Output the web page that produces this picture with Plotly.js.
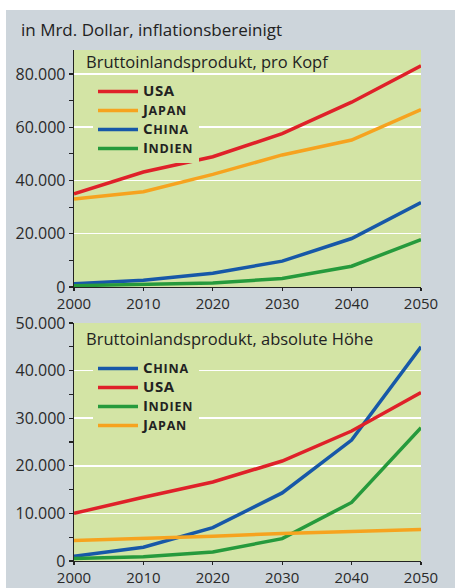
<!DOCTYPE html>
<html>
<head>
<meta charset="utf-8">
<script src="https://cdn.plot.ly/plotly-3.0.1.min.js"></script>
<style>html,body{margin:0;padding:0;background:#fff;}#chart{width:455px;height:588px;}</style>
</head>
<body>
<div id="chart"></div>
<script>
const years = [2000, 2010, 2020, 2030, 2040, 2050];

// Bruttoinlandsprodukt pro Kopf (Dollar)
const kopfUSA    = [35000, 43200, 48900, 57600, 69400, 83100];
const kopfJapan  = [33000, 35800, 42300, 49600, 55200, 66600];
const kopfChina  = [1200, 2500, 5200, 9700, 18200, 31700];
const kopfIndien = [500, 1000, 1500, 3200, 7800, 17800];

// Bruttoinlandsprodukt absolute Höhe (Mrd. Dollar)
const absChina  = [1000, 2900, 7000, 14300, 25400, 45000];
const absUSA    = [10000, 13400, 16600, 21000, 27300, 35400];
const absIndien = [500, 900, 1900, 4700, 12300, 28000];
const absJapan  = [4300, 4700, 5200, 5800, 6200, 6600];

const headerText = 'in Mrd. Dollar, inflationsbereinigt';
const title1 = 'Bruttoinlandsprodukt, pro Kopf';
const title2 = 'Bruttoinlandsprodukt, absolute Höhe';

const C = {USA:'#df2129', Japan:'#f6a31f', China:'#1758a8', Indien:'#269a3c'};
const LW = 3.5;
const W = 455, H = 588;

// small-caps style legend label: first letter large, rest smaller capitals
function smallCaps(name){
  const big = 'font-size:15px;letter-spacing:0.6px', small = 'font-size:12.5px;letter-spacing:0.8px';
  if (name === name.toUpperCase()) return '<span style="' + big + '">' + name + '</span>';
  return '<span style="' + big + '">' + name[0].toUpperCase() + '</span>' +
         '<span style="' + small + '">' + name.slice(1).toUpperCase() + '</span>';
}

function tr(name, y, xa, ya, leg){
  return {x: years, y: y, name: smallCaps(name), type:'scatter', mode:'lines',
    xaxis: xa, yaxis: ya, legend: leg, showlegend: true,
    line:{color:C[name], width:LW}};
}

const data = [
  tr('USA', kopfUSA, 'x', 'y', 'legend'),
  tr('Japan', kopfJapan, 'x', 'y', 'legend'),
  tr('China', kopfChina, 'x', 'y', 'legend'),
  tr('Indien', kopfIndien, 'x', 'y', 'legend'),
  tr('China', absChina, 'x2', 'y2', 'legend2'),
  tr('USA', absUSA, 'x2', 'y2', 'legend2'),
  tr('Indien', absIndien, 'x2', 'y2', 'legend2'),
  tr('Japan', absJapan, 'x2', 'y2', 'legend2')
];

const FAM = 'Open Sans, Noto Sans, sans-serif';
const font = {family:FAM, size:16, color:'#2a2a2a'};
const xfont = {family:FAM, size:15, color:'#2a2a2a'};
const xdom = [74/W, 421/W];
const y1dom = [1-287/H, 1-50/H];
const y2dom = [1-561/H, 1-323/H];

function xaxis(anchor){
  return {domain:xdom, anchor:anchor, range:[2000,2050], tickmode:'array', tickvals:years,
    ticktext: years.map(String), showgrid:false, zeroline:false, showline:true, linecolor:'#222', linewidth:1.3,
    ticks:'outside', ticklen:3, tickcolor:'#222', tickwidth:1.2, tickfont:xfont, fixedrange:true};
}
function yaxis(anchor, dom, range, dtick){
  return {domain:dom, anchor:anchor, range:range, dtick:dtick, tick0:0, tickformat:',d',
    showgrid:true, gridcolor:'#ffffff', gridwidth:1.5, zeroline:false, showline:true, linecolor:'#222', linewidth:1.3,
    ticks:'outside', ticklen:4, tickcolor:'#222', tickwidth:1.2, tickfont:font,
    minor:{dtick:dtick/2, tick0:0, ticks:'outside', ticklen:4, tickcolor:'#222', tickwidth:1.2, showgrid:false},
    fixedrange:true};
}

const legFont = {family:FAM, size:12, color:'#222', weight:700};

const layout = {
  width:W, height:H, margin:{l:0,r:0,t:0,b:0},
  paper_bgcolor:'#cdd5db', plot_bgcolor:'#d3e4a5',
  separators:',.',
  font:font,
  xaxis: xaxis('y'), yaxis: yaxis('x', y1dom, [0, 89000], 20000),
  xaxis2: xaxis('y2'), yaxis2: yaxis('x2', y2dom, [0, 50000], 10000),
  legend:{x:93/W, y:1-77/H, xanchor:'left', yanchor:'top', bgcolor:'#d3e4a5', font:legFont,
    traceorder:'normal', itemwidth:40, tracegroupgap:0},
  legend2:{x:93/W, y:1-354/H, xanchor:'left', yanchor:'top', bgcolor:'#d3e4a5', font:legFont,
    traceorder:'normal', itemwidth:40, tracegroupgap:0},
  annotations:[
    {text:headerText, xref:'paper', yref:'paper', x:19/W, y:1-30/H, xanchor:'left', yanchor:'middle',
      showarrow:false, font:{family:FAM, size:17, color:'#222'}},
    {text:title1, xref:'x domain', yref:'y domain', x:0.03, y:0.95, xanchor:'left', yanchor:'middle',
      showarrow:false, font:{family:FAM, size:16.5, color:'#222'}},
    {text:title2, xref:'x2 domain', yref:'y2 domain', x:0.03, y:0.933, xanchor:'left', yanchor:'middle',
      showarrow:false, font:{family:FAM, size:16.5, color:'#222'}}
  ],
  shapes:[
    {type:'rect', xref:'paper', yref:'paper', x0:0, x1:1, y0:1-10/H, y1:1, fillcolor:'#ffffff', line:{width:0}, layer:'above'},
    {type:'rect', xref:'paper', yref:'paper', x0:0, x1:6/W, y0:0, y1:1, fillcolor:'#ffffff', line:{width:0}, layer:'above'}
  ],
  showlegend:true
};

Plotly.newPlot('chart', data, layout, {displayModeBar:false, staticPlot:true});
</script>
</body>
</html>
